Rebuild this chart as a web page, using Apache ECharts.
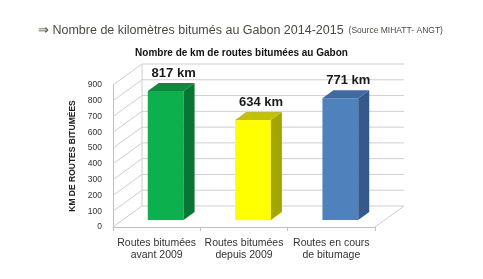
<!DOCTYPE html>
<html>
<head>
<meta charset="utf-8">
<script src="https://cdn.jsdelivr.net/npm/echarts@6/dist/echarts.min.js"></script>
<style>
html, body { margin: 0; padding: 0; background: #fff; }
#chart { width: 483px; height: 279px; }
</style>
</head>
<body>
<div id="chart"></div>
<script>
var categories = ['Routes bitumées\navant 2009', 'Routes bitumées\ndepuis 2009', 'Routes en cours\nde bitumage'];
var values = [817, 634, 771];
var valueLabels = ['817 km', '634 km', '771 km'];
var yTicks = [0, 100, 200, 300, 400, 500, 600, 700, 800, 900];

var frontColors = ['#0cb04c', '#ffff00', '#4f81bd'];
var sideColors = ['#0a7434', '#a5a500', '#35598a'];
var topColors = ['#0a8c3c', '#c2c200', '#3e6ba4'];

// fake 3d depth
var WALL_DX = 29, WALL_DY = -21;
var BAR_DX = 11, BAR_DY = -8;
var BAR_OFF_X = 9, BAR_OFF_Y = -7;

var myChart = echarts.init(document.getElementById('chart'));

function renderGrid(params, api) {
    var cs = params.coordSys;
    var p = api.coord([0, api.value(1)]);
    var x0 = cs.x, x1 = cs.x + cs.width, y = p[1];
    var children = [{
        type: 'polyline',
        shape: { points: [[x0, y], [x0 + WALL_DX, y + WALL_DY], [x1 + WALL_DX, y + WALL_DY]] },
        style: { stroke: '#cfcfcf', lineWidth: 1, fill: null }
    }];
    if (api.value(1) === 0) {
        var top = api.coord([0, yTicks[yTicks.length - 1]]);
        children.push({
            type: 'line',
            shape: { x1: x1, y1: y, x2: x1 + WALL_DX, y2: y + WALL_DY },
            style: { stroke: '#cfcfcf', lineWidth: 1 }
        });
        children.push({
            type: 'line',
            shape: { x1: x0 + WALL_DX, y1: y + WALL_DY, x2: x0 + WALL_DX, y2: top[1] + WALL_DY },
            style: { stroke: '#cfcfcf', lineWidth: 1 }
        });
    }
    return { type: 'group', children: children };
}

function renderBar(params, api) {
    var i = params.dataIndex;
    var top = api.coord([api.value(0), api.value(1)]);
    var base = api.coord([api.value(0), 0]);
    var w = api.size([1, 0])[0] * 0.41;
    var cx = top[0] + BAR_OFF_X;
    var x0 = cx - w / 2, x1 = cx + w / 2;
    var yT = top[1] + BAR_OFF_Y, yB = base[1] + BAR_OFF_Y;
    return {
        type: 'group',
        children: [
            { type: 'polygon', shape: { points: [[x0, yT], [x1, yT], [x1, yB], [x0, yB]] }, style: { fill: frontColors[i] } },
            { type: 'polygon', shape: { points: [[x1, yT], [x1 + BAR_DX, yT + BAR_DY], [x1 + BAR_DX, yB + BAR_DY], [x1, yB]] }, style: { fill: sideColors[i] } },
            { type: 'polygon', shape: { points: [[x0, yT], [x0 + BAR_DX, yT + BAR_DY], [x1 + BAR_DX, yT + BAR_DY], [x1, yT]] }, style: { fill: topColors[i] } },
            {
                type: 'text',
                style: {
                    text: valueLabels[i], x: cx + 8, y: yT + BAR_DY - 10,
                    align: 'center', verticalAlign: 'middle',
                    font: 'bold 13px "Liberation Sans"', fill: '#1a1a1a'
                }
            }
        ]
    };
}

option = {
    backgroundColor: '#fff',
    animation: false,
    title: [{
        text: '{a|⇒ Nombre de kilomètres bitumés au Gabon 2014-2015} {b|(Source MIHATT- ANGT)}',
        left: 33,
        top: 17,
        textStyle: {
            rich: {
                a: { fontSize: 12.5, fontWeight: 'normal', color: '#4a4a40', fontFamily: 'Liberation Sans' },
                b: { fontSize: 8.5, fontWeight: 'normal', color: '#4a4a40', fontFamily: 'Liberation Sans' }
            }
        }
    }, {
        text: 'Nombre de km de routes bitumées au Gabon',
        left: 'center',
        top: 43,
        textStyle: { fontSize: 10, fontWeight: 'bold', color: '#111', fontFamily: 'Liberation Sans' }
    }],
    grid: {
        left: 113,
        right: 108,
        top: 85,
        bottom: 52
    },
    xAxis: {
        type: 'category',
        data: categories,
        axisLine: { show: true, lineStyle: { color: '#bfbfbf', width: 1 } },
        axisTick: { show: true, length: 4, lineStyle: { color: '#bfbfbf' } },
        axisLabel: {
            interval: 0,
            margin: 10,
            color: '#333',
            fontSize: 10.5,
            lineHeight: 12,
            fontFamily: 'Liberation Sans'
        }
    },
    yAxis: {
        type: 'value',
        min: 0,
        max: 900,
        interval: 100,
        name: 'KM DE ROUTES BITUMÉES',
        nameLocation: 'middle',
        nameGap: 36,
        nameTextStyle: { fontSize: 8.5, fontWeight: 'bold', color: '#222', fontFamily: 'Liberation Sans' },
        axisLine: { show: true, lineStyle: { color: '#bfbfbf', width: 1 } },
        axisTick: { show: false },
        axisLabel: { margin: 11, color: '#333', fontSize: 8.5, fontFamily: 'Liberation Sans' },
        splitLine: { show: false }
    },
    series: [{
        type: 'custom',
        silent: true,
        z: 1,
        renderItem: renderGrid,
        data: yTicks.map(function (v) { return [0, v]; })
    }, {
        type: 'custom',
        z: 5,
        renderItem: renderBar,
        data: values.map(function (v, i) { return [i, v]; })
    }]
};

myChart.setOption(option);
window.addEventListener("resize", function () {
    myChart.resize();
});
</script>
</body>
</html>
